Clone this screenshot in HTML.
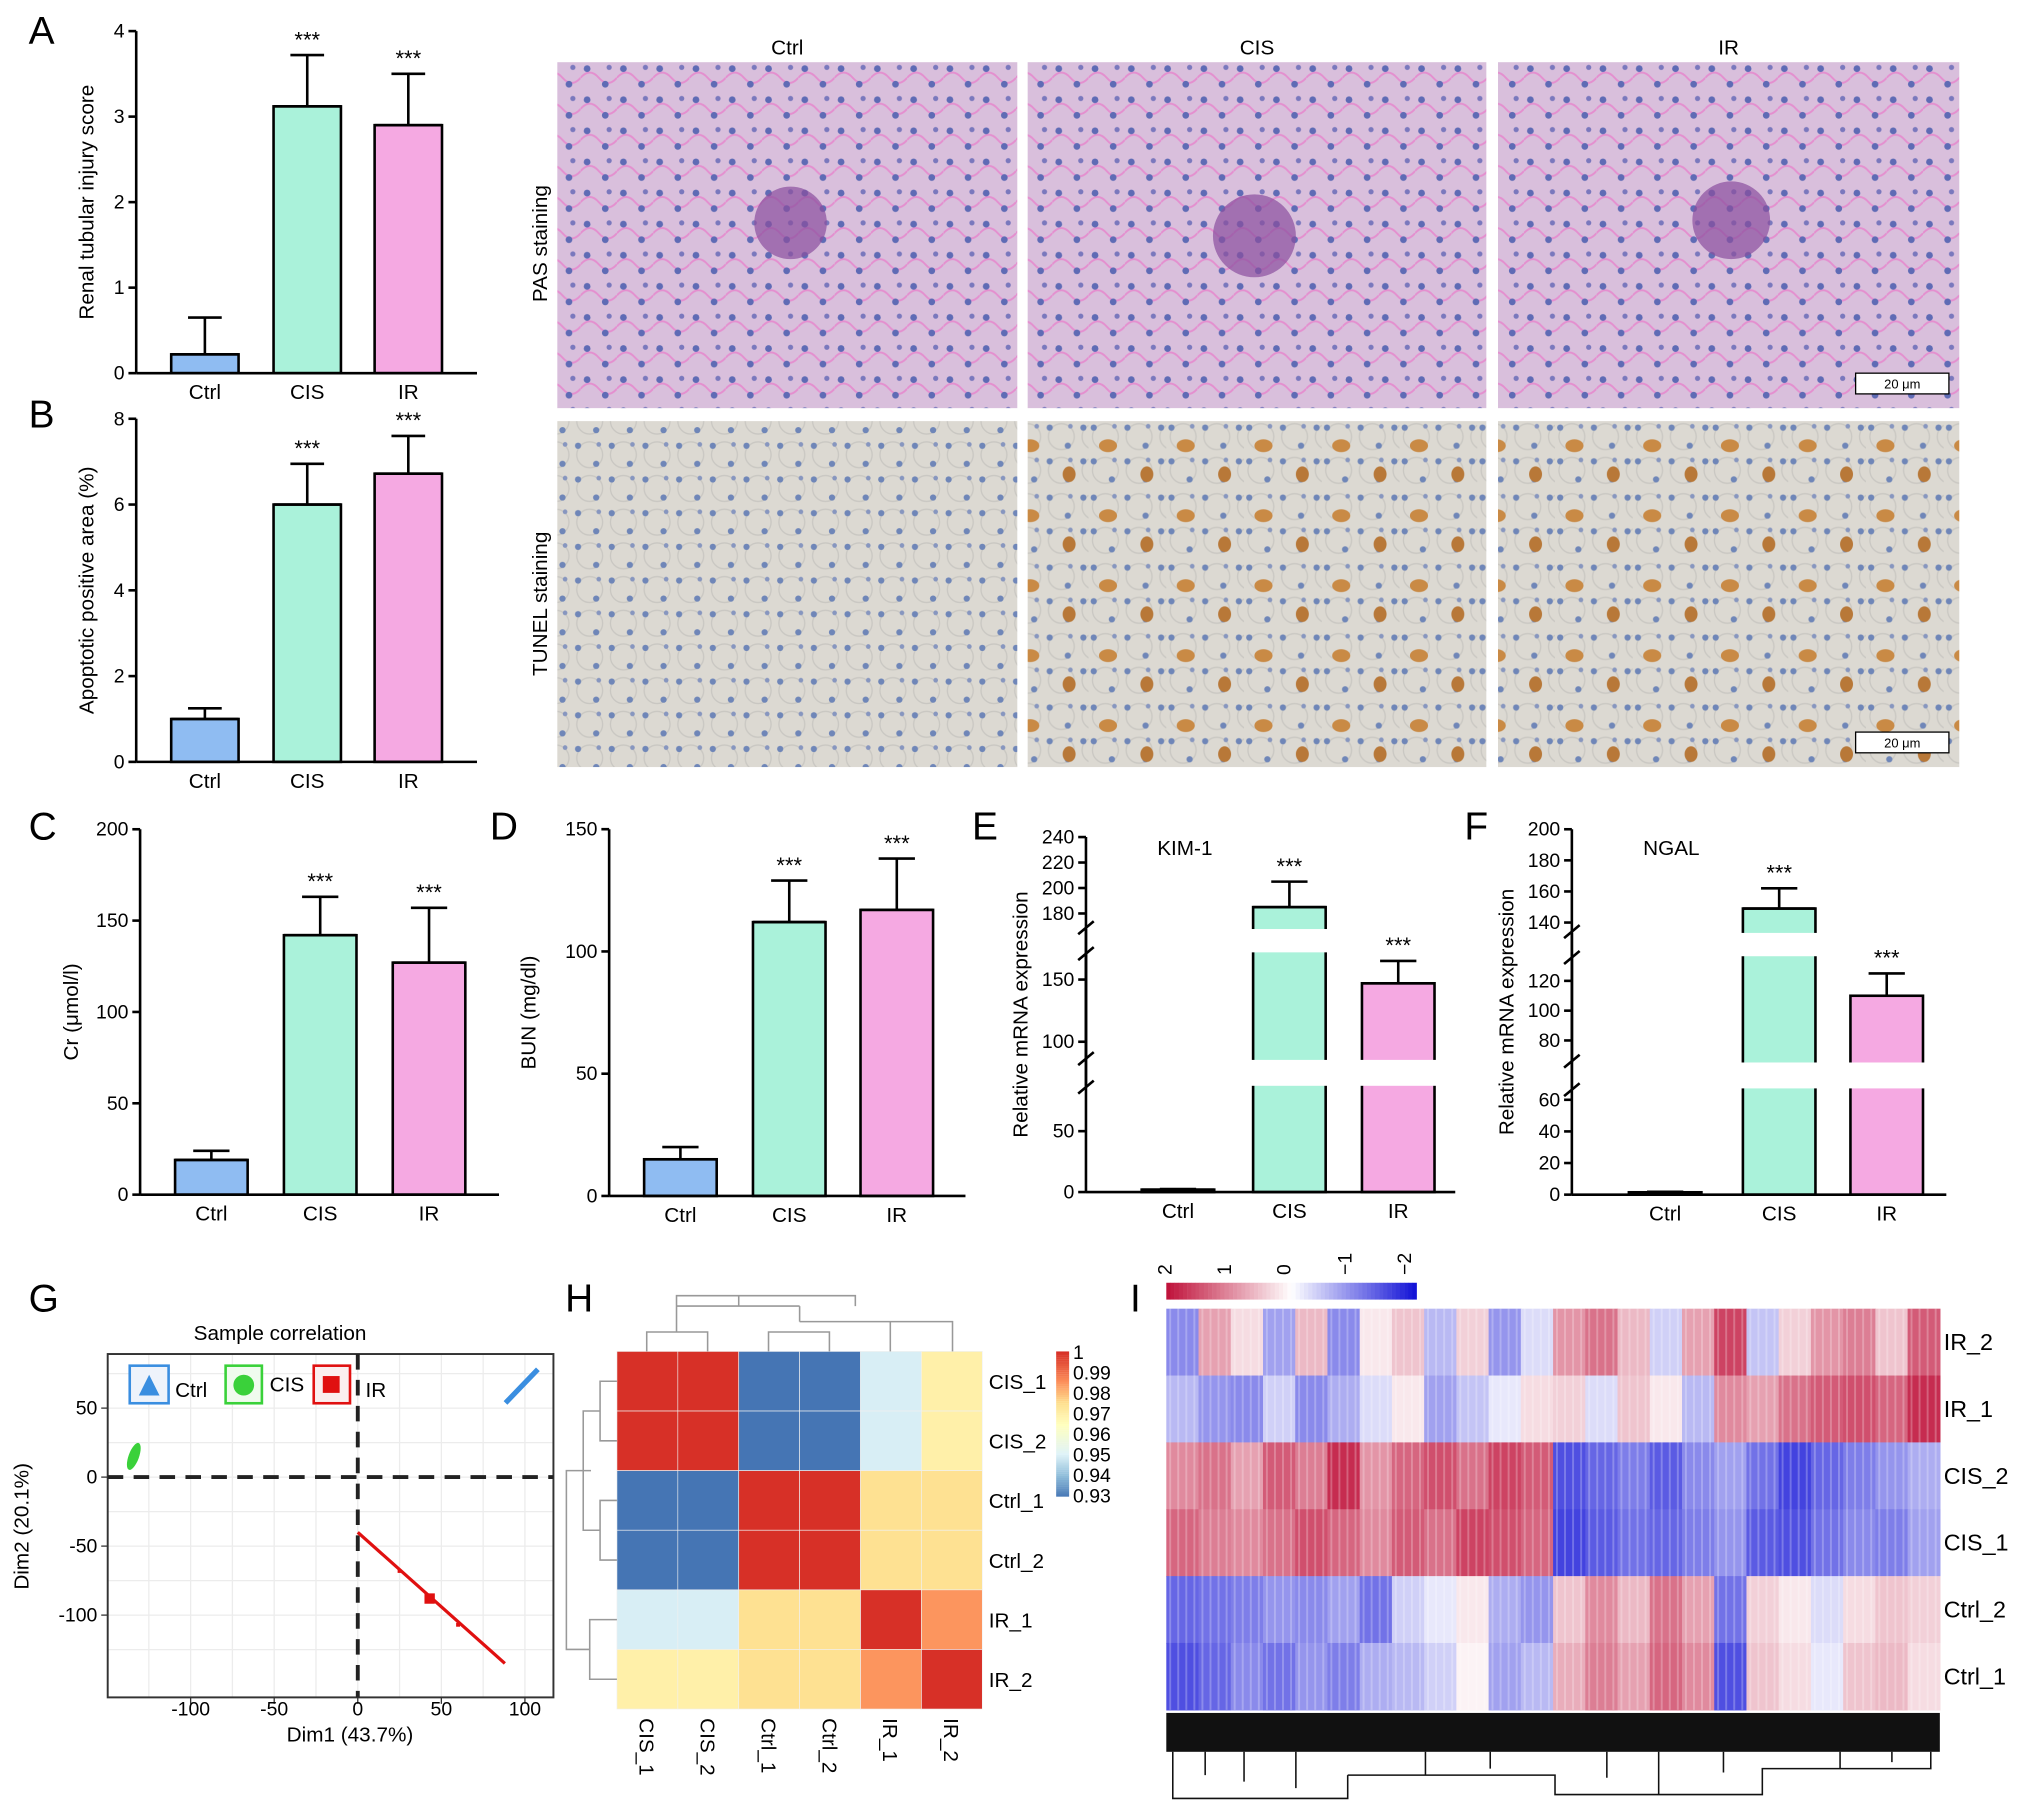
<!DOCTYPE html>
<html><head><meta charset="utf-8"><style>
html,body{margin:0;padding:0;background:#fff}
svg{display:block;font-family:"Liberation Sans",Arial,sans-serif}
</style></head><body>
<svg id="fig" width="2032" height="1814" viewBox="0 0 1568 1400" xmlns="http://www.w3.org/2000/svg">
<defs>
<pattern id="pas" width="28" height="24" patternUnits="userSpaceOnUse">
<rect width="28" height="24" fill="#d9bfdc"/>
<path d="M0 12 Q7 4 14 12 T28 12" stroke="#e48fcf" stroke-width="1.5" fill="none"/>
<circle cx="5" cy="5" r="2.6" fill="#5f6bb5"/><circle cx="19" cy="17" r="2.6" fill="#5f6bb5"/><circle cx="22" cy="4" r="2" fill="#7a78bd"/>
</pattern>
<pattern id="tun" width="26" height="26" patternUnits="userSpaceOnUse">
<rect width="26" height="26" fill="#dcd9d2"/>
<circle cx="13" cy="13" r="10" stroke="#c9c7c2" fill="none"/>
<circle cx="4" cy="6" r="2.4" fill="#6f86b8"/><circle cx="18" cy="20" r="2.4" fill="#6f86b8"/><circle cx="20" cy="5" r="1.8" fill="#8796bf"/>
</pattern>
<pattern id="tunb" width="60" height="54" patternUnits="userSpaceOnUse">
<rect width="60" height="54" fill="url(#tun)"/>
<ellipse cx="15" cy="20" rx="7" ry="5" fill="#c98a45"/><ellipse cx="45" cy="42" rx="5" ry="6" fill="#b87838"/>
</pattern>
</defs>
<g id="root"></g>
</svg>
<script>
// ---- data ----
const groups = ["Ctrl","CIS","IR"];
const aVals = [0.22,3.12,2.9]; const aErr = [0.43,0.6,0.6];
const bVals = [1.0,6.0,6.72]; const bErr = [0.25,0.95,0.88];
const cVals = [19,142,127]; const cErr = [5,21,30];
const dVals = [15,112,117]; const dErr = [5,17,21];
const eVals = [2,185,147]; const eErr = [0.5,20,18];
const fVals = [1.5,149,110]; const fErr = [0.3,13,15];
const hLabels = ["CIS_1","CIS_2","Ctrl_1","Ctrl_2","IR_1","IR_2"];
const hMatrix = [
 [1,1,0.93,0.93,0.95,0.97],
 [1,1,0.93,0.93,0.95,0.97],
 [0.93,0.93,1,1,0.975,0.975],
 [0.93,0.93,1,1,0.975,0.975],
 [0.95,0.95,0.975,0.975,1,0.985],
 [0.97,0.97,0.975,0.975,0.985,1]];
const iRows = ["IR_2","IR_1","CIS_2","CIS_1","Ctrl_2","Ctrl_1"];
const iData = [
 [-1,0.8,0.3,-0.8,0.6,-1,0.2,0.5,-0.6,0.4,-0.9,-0.3,0.9,1.2,0.6,-0.4,0.8,1.6,-0.5,0.4,0.9,1.1,0.5,1.4],
 [-0.6,-0.9,-1,-0.4,-1,-0.7,-0.3,0.2,-0.8,-0.5,-0.2,0.3,0.4,-0.3,0.5,0.2,-0.6,1.0,0.8,1.2,1.4,1.5,1.3,1.8],
 [1.0,1.2,0.8,1.4,1.1,1.8,0.9,1.3,1.5,1.2,1.6,1.4,-1.5,-1.3,-1.1,-1.4,-1.0,-0.8,-1.2,-1.6,-1.3,-1.1,-0.9,-0.7],
 [1.3,1.1,1.0,1.2,1.5,1.3,1.0,1.4,1.2,1.6,1.5,1.3,-1.6,-1.4,-1.2,-1.3,-1.1,-0.9,-1.4,-1.5,-1.2,-1.0,-1.1,-0.8],
 [-1.3,-1.2,-1.1,-0.9,-1.0,-0.8,-1.2,-0.4,-0.2,0.2,-0.7,-0.9,0.5,1.0,0.6,1.2,0.8,-1.2,0.4,0.2,-0.3,0.3,0.5,0.4],
 [-1.5,-1.3,-1.0,-1.2,-0.9,-1.1,-0.7,-0.6,-0.4,0.1,-0.8,-0.6,0.7,1.1,0.8,1.3,1.0,-1.5,0.5,0.3,-0.2,0.5,0.6,0.3]];
const gRed = [[25,-68],[43,-88],[60,-107]];
const gGreen = [-134,15]; const gBlue = [100,65];
const gXTicks = [-100,-50,0,50,100]; const gYTicks = [50,0,-50,-100];

// ---- helpers ----
const NS="http://www.w3.org/2000/svg";
const root=document.getElementById('root');
function el(tag,attrs,parent,text){const e=document.createElementNS(NS,tag);for(const k in attrs)e.setAttribute(k,attrs[k]);if(text!==undefined)e.textContent=text;(parent||root).appendChild(e);return e;}
const colors=["#8fbcf2","#aaf2da","#f5a9e2"];

function barPanel(name,letter,lx,ly,x0,x1,ybase,scale,ticks,vals,errs,centers,bw,ylabel,ylx,breaks){
  const g=el('g',{}, root);  
  el('text',{x:lx,y:ly,'font-size':30},g,letter);
  vals.forEach((v,i)=>{
    const yt=scale(v);
    const r=el('rect',{x:centers[i]-bw/2,y:yt,width:bw,height:ybase-yt,fill:colors[i],stroke:'#000','stroke-width':2},g);
    
    
  });
  if(breaks){breaks.forEach(b=>{el('rect',{x:x0+10,y:b[0],width:x1-x0,height:b[1]-b[0],fill:'#fff'},g);
    el('rect',{x:x0-2,y:b[0],width:4,height:b[1]-b[0],fill:'#fff'},g);
    el('line',{x1:x0-6,x2:x0+6,y1:b[0]+4,y2:b[0]-6,stroke:'#000','stroke-width':2},g);
    el('line',{x1:x0-6,x2:x0+6,y1:b[1]+6,y2:b[1]-4,stroke:'#000','stroke-width':2},g);});}
  vals.forEach((v,i)=>{
    const yt=scale(v), ye=scale(v+errs[i]);
    el('line',{x1:centers[i],x2:centers[i],y1:yt,y2:ye,stroke:'#000','stroke-width':2},g);
    el('line',{x1:centers[i]-bw/4,x2:centers[i]+bw/4,y1:ye,y2:ye,stroke:'#000','stroke-width':2},g);
    el('line',{x1:centers[i]-bw/2,x2:centers[i]+bw/2,y1:yt,y2:yt,stroke:'#000','stroke-width':2},g);
    if(i>0) el('text',{x:centers[i],y:ye-6,'text-anchor':'middle','font-size':17},g,'***');
    el('text',{x:centers[i],y:ybase+20,'text-anchor':'middle','font-size':16},g,groups[i]);
  });
  el('line',{x1:x0,x2:x1,y1:ybase,y2:ybase,stroke:'#000','stroke-width':2},g);
  const top=scale(ticks[ticks.length-1]);
  if(!breaks) el('line',{x1:x0,x2:x0,y1:top,y2:ybase,stroke:'#000','stroke-width':2},g);
  else { let segs=[[top,breaks[0][0]]];for(let k=0;k<breaks.length;k++){segs.push([breaks[k][1],k+1<breaks.length?breaks[k+1][0]:ybase]);}
    segs.forEach(s=>el('line',{x1:x0,x2:x0,y1:s[0],y2:s[1],stroke:'#000','stroke-width':2},g));}
  ticks.forEach(t=>{const y=scale(t);el('line',{x1:x0-6,x2:x0,y1:y,y2:y,stroke:'#000','stroke-width':2},g);
    el('text',{x:x0-9,y:y+5,'text-anchor':'end','font-size':15},g,t);});
  const yc=(top+ybase)/2;
  el('text',{x:ylx,y:yc,'text-anchor':'middle','font-size':16,transform:`rotate(-90 ${ylx} ${yc})`},g,ylabel);
  return g;
}
barPanel('panel-a-bar-chart','A',22,34,105,368,288,v=>288-v*66,[0,1,2,3,4],aVals,aErr,[158,237,315],52,'Renal tubular injury score',72);
barPanel('panel-b-bar-chart','B',22,330,105,368,588,v=>588-v*33.1,[0,2,4,6,8],bVals,bErr,[158,237,315],52,'Apoptotic positive area (%)',72);
barPanel('panel-c-bar-chart','C',22,648,108,385,922,v=>922-v*1.41,[0,50,100,150,200],cVals,cErr,[163,247,331],56,'Cr (\u03bcmol/l)',60);
barPanel('panel-d-bar-chart','D',378,648,470,745,923,v=>923-v*1.887,[0,50,100,150],dVals,dErr,[525,609,692],56,'BUN (mg/dl)',413);
function eScale(v){if(v<=70)return 920-v*0.94;if(v<=165)return 804-(v-100)*0.96;return 705-(v-180)*0.983;}
const ge=barPanel('panel-e-bar-chart','E',750,648,838,1123,920,eScale,[0,50,100,150,180,200,220,240],eVals,eErr,[909,995,1079],56,'Relative mRNA expression',793,[[818,838],[717,735]]);
el('text',{x:893,y:660,'font-size':16},ge,'KIM-1');
function fScale(v){if(v<=70)return 922-v*1.22;if(v<=130)return 780-(v-100)*1.15;return 712-(v-140)*1.2;}
const gf=barPanel('panel-f-bar-chart','F',1130,648,1213,1502,922,fScale,[0,20,40,60,80,100,120,140,160,180,200],fVals,fErr,[1285,1373,1456],56,'Relative mRNA expression',1168,[[820,840],[720,738]]);
el('text',{x:1268,y:660,'font-size':16},gf,'NGAL');

// images
const imgs=el('g',{},root);  
const ix=[430,793,1156], iw=[355,354,356];
["Ctrl","CIS","IR"].forEach((n,i)=>{el('text',{x:ix[i]+iw[i]/2,y:42,'text-anchor':'middle','font-size':16},imgs,n);
  el('rect',{x:ix[i],y:48,width:iw[i],height:267,fill:'url(#pas)'},imgs);
  el('rect',{x:ix[i],y:325,width:iw[i],height:267,fill:i==0?'url(#tun)':'url(#tunb)'},imgs);});
el('circle',{cx:610,cy:172,r:28,fill:'#8a4f9e',opacity:0.7},imgs);el('circle',{cx:968,cy:182,r:32,fill:'#8a4f9e',opacity:0.7},imgs);el('circle',{cx:1336,cy:170,r:30,fill:'#8a4f9e',opacity:0.7},imgs);
[[1432,288],[1432,565]].forEach(p=>{el('rect',{x:p[0],y:p[1],width:72,height:16,fill:'#fff',stroke:'#000'},imgs);el('text',{x:p[0]+36,y:p[1]+12,'text-anchor':'middle','font-size':10},imgs,'20 \u03bcm');});
el('text',{x:422,y:188,'text-anchor':'middle','font-size':16,transform:'rotate(-90 422 188)'},imgs,'PAS staining');
el('text',{x:422,y:466,'text-anchor':'middle','font-size':16,transform:'rotate(-90 422 466)'},imgs,'TUNEL staining');

// G
const gg=el('g',{},root);  
el('text',{x:22,y:1012,'font-size':30},gg,'G');
el('text',{x:216,y:1034,'text-anchor':'middle','font-size':16},gg,'Sample correlation');
const gx=v=>276+v*1.29, gy=v=>1140-v*1.065;
for(let v=-125;v<=100;v+=25)el('line',{x1:gx(v),x2:gx(v),y1:1045,y2:1310,stroke:'#ececec'},gg);
for(let v=-125;v<=75;v+=25)el('line',{x1:83,x2:427,y1:gy(v),y2:gy(v),stroke:'#ececec'},gg);
el('rect',{x:83,y:1045,width:344,height:265,fill:'none',stroke:'#333','stroke-width':1.5},gg);
el('line',{x1:83,x2:427,y1:gy(0),y2:gy(0),stroke:'#222','stroke-width':3,'stroke-dasharray':'12 8'},gg);
el('line',{x1:gx(0),x2:gx(0),y1:1045,y2:1310,stroke:'#222','stroke-width':3,'stroke-dasharray':'12 8'},gg);
gXTicks.forEach(t=>{el('line',{x1:gx(t),x2:gx(t),y1:1310,y2:1315,stroke:'#333'},gg);el('text',{x:gx(t),y:1324,'text-anchor':'middle','font-size':15},gg,t);});
gYTicks.forEach(t=>{el('line',{x1:78,x2:83,y1:gy(t),y2:gy(t),stroke:'#333'},gg);el('text',{x:75,y:gy(t)+5,'text-anchor':'end','font-size':15},gg,t);});
el('text',{x:270,y:1344,'text-anchor':'middle','font-size':16},gg,'Dim1 (43.7%)');
el('text',{x:22,y:1178,'text-anchor':'middle','font-size':16,transform:'rotate(-90 22 1178)'},gg,'Dim2 (20.1%)');
el('line',{x1:gx(0),y1:gy(-40),x2:gx(88),y2:gy(-135),stroke:'#e01010','stroke-width':2.5},gg);
gRed.forEach((p,i)=>{const s=i==1?8:3;el('rect',{x:gx(p[0])-s/2,y:gy(p[1])-s/2,width:s,height:s,fill:'#e01010'},gg);});
el('ellipse',{cx:gx(gGreen[0]),cy:gy(gGreen[1]),rx:4,ry:11,fill:'#3ad13a',transform:`rotate(20 ${gx(gGreen[0])} ${gy(gGreen[1])})`},gg);
el('path',{d:`M${gx(gBlue[0])-15} ${gy(gBlue[1])+12} L${gx(gBlue[0])+10} ${gy(gBlue[1])-14}`,stroke:'#3a8ee0','stroke-width':4},gg);
const lg=el('g',{},gg);  
el('rect',{x:100,y:1054,width:30,height:29,fill:'#eef3fb',stroke:'#3a8ee0','stroke-width':2},lg);el('path',{d:'M107 1077 L115 1061 L123 1077Z',fill:'#3a8ee0'},lg);el('text',{x:135,y:1078,'font-size':16},lg,'Ctrl');
el('rect',{x:174,y:1054,width:28,height:29,fill:'#f0fbee',stroke:'#3ad13a','stroke-width':2},lg);el('circle',{cx:188,cy:1069,r:8,fill:'#3ad13a'},lg);el('text',{x:208,y:1074,'font-size':16},lg,'CIS');
el('rect',{x:242,y:1054,width:28,height:29,fill:'#fbeeee',stroke:'#e01010','stroke-width':2},lg);el('rect',{x:249,y:1062,width:13,height:13,fill:'#e01010'},lg);el('text',{x:282,y:1078,'font-size':16},lg,'IR');

// H
const gh=el('g',{},root);  
el('text',{x:436,y:1012,'font-size':30},gh,'H');
function hCol(v){const t=(v-0.93)/0.07;const st=[[0,[69,117,180]],[0.15,[145,191,219]],[0.3,[224,243,248]],[0.5,[255,255,191]],[0.65,[254,224,144]],[0.8,[252,141,89]],[1,[215,48,39]]];
 for(let k=1;k<st.length;k++){if(t<=st[k][0]){const a=st[k-1],b=st[k],f=(t-a[0])/(b[0]-a[0]);return 'rgb('+a[1].map((c,j)=>Math.round(c+(b[1][j]-c)*f)).join(',')+')';}}return 'rgb(215,48,39)';}
const hx0=476,hy0=1043,cw=47,ch=46;
hMatrix.forEach((row,r)=>row.forEach((v,c)=>{const e=el('rect',{x:hx0+c*cw,y:hy0+r*ch,width:cw,height:ch,fill:hCol(v),stroke:'#f0f0f0','stroke-width':0.5},gh);}));
hLabels.forEach((l,i)=>{el('text',{x:763,y:hy0+i*ch+29,'font-size':16},gh,l);
 const x=hx0+i*cw+cw/2;el('text',{x:x-6,y:1326,'font-size':16,transform:`rotate(90 ${x-6} 1326)`},gh,l);});
const dd='M499 1043V1028H546V1043 M593 1043V1028H640V1043 M687 1043V1020H735V1043 M522 1028V1008H617 M617 1020V1008 M617 1020H711 M617 1020V1018 M570 1008V1000 M617 1016V1008 M522 1008V1000H660V1008 M476 1066H463V1112H476 M476 1158H463V1204H476 M476 1250H455V1296H476 M463 1089H450V1181H463 M456 1135H437V1273H455';
el('path',{d:dd,stroke:'#999','stroke-width':1.2,fill:'none'},gh);
for(let k=0;k<70;k++){el('rect',{x:815,y:1043+k*1.6,width:10,height:1.7,fill:hCol(1-k*0.001)},gh);}
["1","0.99","0.98","0.97","0.96","0.95","0.94","0.93"].forEach((t,i)=>el('text',{x:828,y:1049+i*15.8,'font-size':15},gh,t));

// I
const gi=el('g',{},root);  
el('text',{x:872,y:1012,'font-size':30},gi,'I');
function iCol(v){const t=Math.max(-2,Math.min(2,v))/2;if(t>=0){return `rgb(${Math.round(255-63*t)},${Math.round(255-235*t)},${Math.round(255-195*t)})`;}const s=-t;return `rgb(${Math.round(255-235*s)},${Math.round(255-235*s)},${Math.round(255-40*s)})`;}
const ix0=900,ix1=1497,iy0=1010,rh=51.6,nb=iData[0].length,bwI=(ix1-ix0)/nb;
iData.forEach((row,r)=>row.forEach((v,c)=>{const e=el('rect',{x:ix0+c*bwI,y:iy0+r*rh,width:bwI+0.5,height:rh+0.5,fill:iCol(v)},gi);}));
for(let c=0;c<nb*4;c++){el('line',{x1:ix0+c*bwI/4+3,x2:ix0+c*bwI/4+3,y1:iy0,y2:iy0+rh*6,stroke:'#fff','stroke-opacity':0.25,'stroke-width':1.5},gi);}
iRows.forEach((l,i)=>el('text',{x:1500,y:iy0+i*rh+32,'font-size':18},gi,l));
el('rect',{x:900,y:1322,width:597,height:30,fill:'#111'},gi);
el('path',{d:'M905 1352V1388H1040V1370 M960 1352V1375 M1040 1370H1200V1385H1360V1365H1490V1352 M1100 1370V1352 M1280 1385V1352 M1420 1365V1352 M930 1352V1370 M1000 1352V1380 M1150 1352V1365 M1240 1352V1372 M1330 1352V1368 M1460 1352V1360',stroke:'#111','stroke-width':1.2,fill:'none'},gi);
for(let k=0;k<60;k++){el('rect',{x:900+k*3.22,y:990,width:3.4,height:13,fill:iCol(2-k*4/59)},gi);}
[["2",904],["1",950],["0",996],["\u22121",1043],["\u22122",1089]].forEach(p=>el('text',{x:p[1],y:984,'font-size':15,transform:`rotate(-90 ${p[1]} 984)`,'text-anchor':'start'},gi,p[0]));
</script>
</body></html>
